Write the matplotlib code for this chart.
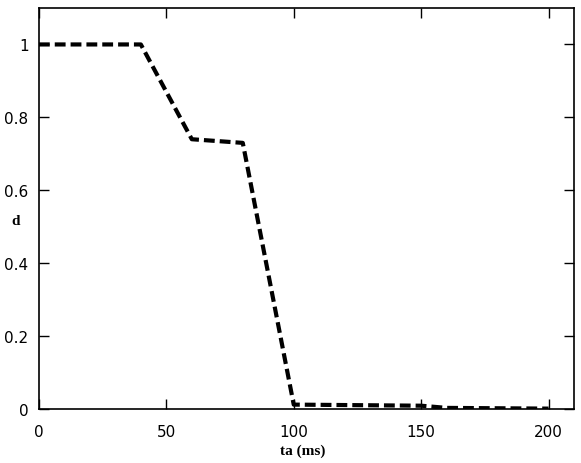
import matplotlib.pyplot as plt

# values
ta = [0, 40, 60, 80, 100, 150, 160, 200]
d = [1.0, 1.0, 0.74, 0.73, 0.012, 0.009, 0.003, 0.001]

x_ticks = [0, 50, 100, 150, 200]
y_ticks = [0, 0.2, 0.4, 0.6, 0.8, 1]
y_labels = ['0', '0.2', '0.4', '0.6', '0.8', '1']

fig = plt.figure(figsize=(5.81, 4.64), dpi=100)
ax = fig.add_axes([0.067, 0.1164, 0.921, 0.8642])

ax.plot(ta, d, color='black', lw=3.0, linestyle=(0, (2.6, 1.2)))

ax.set_xlim(0, 210)
ax.set_ylim(0, 1.1)
ax.set_xticks(x_ticks)
ax.set_yticks(y_ticks)
ax.set_yticklabels(y_labels)
ax.tick_params(direction='in', top=True, right=True, length=7, width=1,
               labelsize=11)
ax.tick_params(axis='x', pad=10.5)
ax.tick_params(axis='y', pad=7.5)
for s in ax.spines.values():
    s.set_linewidth(1.2)

ax.set_xlabel('ta (ms)', family='Liberation Serif', fontweight='bold',
              fontsize=11)
ax.xaxis.set_label_coords(0.493, -0.085)
ax.set_ylabel('d', family='Liberation Serif', fontweight='bold',
              fontsize=11, rotation=0, va='center', ha='center')
ax.yaxis.set_label_coords(-0.043, 0.471)

plt.savefig('out.png', dpi=100)
plt.close()
